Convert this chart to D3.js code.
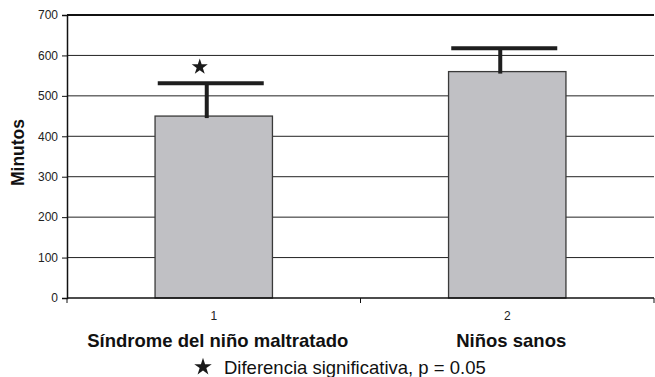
<!DOCTYPE html>
<html>
<head>
<meta charset="utf-8">
<script src="https://cdn.jsdelivr.net/npm/d3@7"></script>
<style>
  html, body { margin: 0; padding: 0; background: #fff; }
  svg { display: block; font-family: "Liberation Sans", Arial, sans-serif; }
</style>
</head>
<body>
<svg id="chart" width="655" height="377"></svg>
<script>
// Group keys, means and upper error limits (minutes)
const categories = ["1", "2"];
const groupNames = ["Síndrome del niño maltratado", "Niños sanos"];
const means = [450, 560];
const upperErrors = [531, 618];
const significant = [true, false];
const starValue = 574;
const yTicks = [0, 100, 200, 300, 400, 500, 600, 700];
const yLabel = "Minutos";
const footnote = "Diferencia significativa, p = 0.05";

const svg = d3.select("#chart");
const margin = { left: 67, right: 1, top: 15, bottom: 79 };
const W = 655, H = 377;

const x = d3.scaleBand()
  .domain(categories)
  .range([margin.left, W - margin.right])
  .paddingInner(0.6)
  .paddingOuter(0.3);

const xOuter = d3.scaleBand()
  .domain(categories)
  .range([margin.left, W - margin.right]);

const y = d3.scaleLinear()
  .domain([0, 700])
  .range([H - margin.bottom, margin.top]);

// horizontal gridlines
svg.append("g")
  .selectAll("line")
  .data(yTicks.filter(t => t > 0 && t < 700))
  .join("line")
  .attr("x1", margin.left).attr("x2", W - margin.right)
  .attr("y1", d => y(d)).attr("y2", d => y(d))
  .attr("stroke", "#222").attr("stroke-width", 1);

// top frame line
svg.append("line")
  .attr("x1", margin.left).attr("x2", W - margin.right)
  .attr("y1", y(700)).attr("y2", y(700))
  .attr("stroke", "#111").attr("stroke-width", 2);

// bars
svg.append("g")
  .selectAll("rect")
  .data(means)
  .join("rect")
  .attr("x", (d, i) => x(categories[i]))
  .attr("width", x.bandwidth())
  .attr("y", d => y(d))
  .attr("height", d => y(0) - y(d))
  .attr("fill", "#c0c0c4")
  .attr("stroke", "#3a3a3a")
  .attr("stroke-width", 1.3);

// error bars (stem + cap)
const err = svg.append("g");
upperErrors.forEach((u, i) => {
  const cx = x(categories[i]) + x.bandwidth() / 2;
  err.append("line")
    .attr("x1", cx - 7).attr("x2", cx - 7)
    .attr("y1", y(means[i]) + 2).attr("y2", y(u))
    .attr("stroke", "#1e1e1e").attr("stroke-width", 4);
  err.append("line")
    .attr("x1", cx - 56).attr("x2", cx + 50)
    .attr("y1", y(u)).attr("y2", y(u))
    .attr("stroke", "#1e1e1e").attr("stroke-width", 4);
});

// significance star
const star = d3.symbol().type(d3.symbolStar).size(80);
significant.forEach((s, i) => {
  if (!s) return;
  const cx = x(categories[i]) + x.bandwidth() / 2;
  svg.append("path")
    .attr("d", star())
    .attr("transform", `translate(${cx - 14},${y(starValue) + 1})`)
    .attr("fill", "#1a1a1a");
});

// y axis
const yAxis = svg.append("g")
  .attr("transform", `translate(${margin.left},0)`)
  .call(d3.axisLeft(y).tickValues(yTicks).tickSize(5).tickPadding(4));
yAxis.select(".domain").attr("stroke", "#111").attr("stroke-width", 1.5);
yAxis.selectAll(".tick line").attr("stroke", "#111");
yAxis.selectAll(".tick text")
  .attr("font-size", 12).attr("fill", "#222")
  .attr("font-family", "Liberation Sans, Arial, sans-serif");

// x axis
const xAxisLine = svg.append("g")
  .attr("transform", `translate(0,${y(0)})`);
xAxisLine.append("line")
  .attr("x1", margin.left).attr("x2", W - margin.right)
  .attr("stroke", "#111").attr("stroke-width", 1.5);
const edges = [margin.left, ...categories.map(c => xOuter(c) + xOuter.bandwidth())];
xAxisLine.selectAll("line.tk")
  .data(edges)
  .join("line")
  .attr("class", "tk")
  .attr("x1", d => d).attr("x2", d => d)
  .attr("y1", 0).attr("y2", 5)
  .attr("stroke", "#111");
xAxisLine.selectAll("text")
  .data(categories)
  .join("text")
  .attr("x", d => x(d) + x.bandwidth() / 2)
  .attr("y", 22)
  .attr("text-anchor", "middle")
  .attr("font-size", 12)
  .attr("fill", "#222")
  .text(d => d);

// y axis title
svg.append("text")
  .attr("transform", `translate(24,${(y(0) + y(700)) / 2 - 4}) rotate(-90)`)
  .attr("text-anchor", "middle")
  .attr("font-size", 17.5)
  .attr("font-weight", "bold")
  .attr("fill", "#111")
  .text(yLabel);

// group names
svg.append("g")
  .selectAll("text")
  .data(groupNames)
  .join("text")
  .attr("x", (d, i) => x(categories[i]) + x.bandwidth() / 2 + 4)
  .attr("y", 347)
  .attr("text-anchor", "middle")
  .attr("font-size", 18.5)
  .attr("font-weight", "bold")
  .attr("fill", "#111")
  .text(d => d);

// footnote
svg.append("path")
  .attr("d", d3.symbol().type(d3.symbolStar).size(95)())
  .attr("transform", "translate(203,367)")
  .attr("fill", "#1a1a1a");
svg.append("text")
  .attr("x", 224)
  .attr("y", 374)
  .attr("font-size", 18.5)
  .attr("fill", "#111")
  .text(footnote);
</script>
</body>
</html>
